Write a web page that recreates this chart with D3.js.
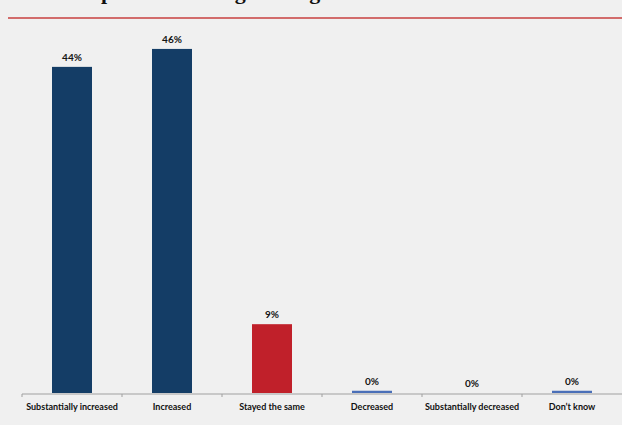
<!DOCTYPE html>
<html>
<head>
<meta charset="utf-8">
<script src="https://cdn.jsdelivr.net/npm/d3@7"></script>
<style>
body{margin:0;background:#f0f0f0;}
svg{display:block;}
</style>
</head>
<body>
<svg id="chart" width="622" height="425"></svg>
<script>
// data
let categories = ['Substantially increased','Increased','Stayed the same','Decreased','Substantially decreased',"Don\u2019t know"];
let values = [43.6, 46.0, 9.2, 0.3, 0, 0.3];
let labels = ['44%','46%','9%','0%','0%','0%'];
let barColors = ['#143d66','#143d66','#c0202a','#4a6fb8','#4a6fb8','#4a6fb8'];
let titleText = 'Overall spend on the big data agenda';

let chart = d3.select('#chart');
let W = 622, H = 425;
let left = 22, right = 622, base = 393;

chart.append('rect').attr('width',W).attr('height',H).attr('fill','#f0f0f0');

// title, mostly cut off above the frame
chart.append('text')
    .attr('x',16).attr('y',-1)
    .attr('font-family','Liberation Serif')
    .attr('font-weight','bold')
    .attr('font-size',22)
    .attr('fill','#111')
    .text(titleText);

chart.append('line')
    .attr('x1',8).attr('x2',W).attr('y1',18).attr('y2',18)
    .attr('stroke','#c9403f').attr('stroke-width',1.5);

let x = d3.scaleBand().domain(categories).range([left,right]).paddingInner(0.6).paddingOuter(0.3);
let y = d3.scaleLinear().domain([0,50]).range([base, base-50*7.48]);

let tdata = categories.map((c,i)=>({cat:c, val:values[i], lab:labels[i], col:barColors[i]}));

chart.append('g').selectAll('rect')
    .data(tdata)
    .join('rect')
    .attr('x', d=>x(d.cat))
    .attr('y', d=>y(d.val))
    .attr('width', x.bandwidth())
    .attr('height', d=>base-y(d.val))
    .attr('fill', d=>d.col);

chart.append('g').selectAll('text')
    .data(tdata)
    .join('text')
    .attr('x', d=>x(d.cat)+x.bandwidth()/2)
    .attr('y', d=>y(d.val)-6)
    .attr('text-anchor','middle')
    .attr('font-family','Lato')
    .attr('font-weight','bold')
    .attr('font-size',10)
    .attr('fill','#141414')
    .text(d=>d.lab);

// category axis: ticks at band boundaries, labels centred
let axisY = base+1;
let axis = chart.append('g');
axis.append('line')
    .attr('x1',left).attr('x2',right).attr('y1',axisY).attr('y2',axisY)
    .attr('stroke','#a0a0a0').attr('stroke-width',1);
let step = x.step();
let bounds = d3.range(categories.length).map(i=>left+i*step);
axis.selectAll('.tk')
    .data(bounds)
    .join('line')
    .attr('class','tk')
    .attr('x1',d=>d).attr('x2',d=>d)
    .attr('y1',axisY).attr('y2',axisY+3)
    .attr('stroke','#a0a0a0');
axis.selectAll('.lb')
    .data(categories)
    .join('text')
    .attr('class','lb')
    .attr('x',d=>x(d)+x.bandwidth()/2)
    .attr('y',409.5)
    .attr('text-anchor','middle')
    .attr('font-family','Lato')
    .attr('font-weight','bold')
    .attr('font-size',9)
    .attr('fill','#111')
    .text(d=>d);
</script>
</body>
</html>
